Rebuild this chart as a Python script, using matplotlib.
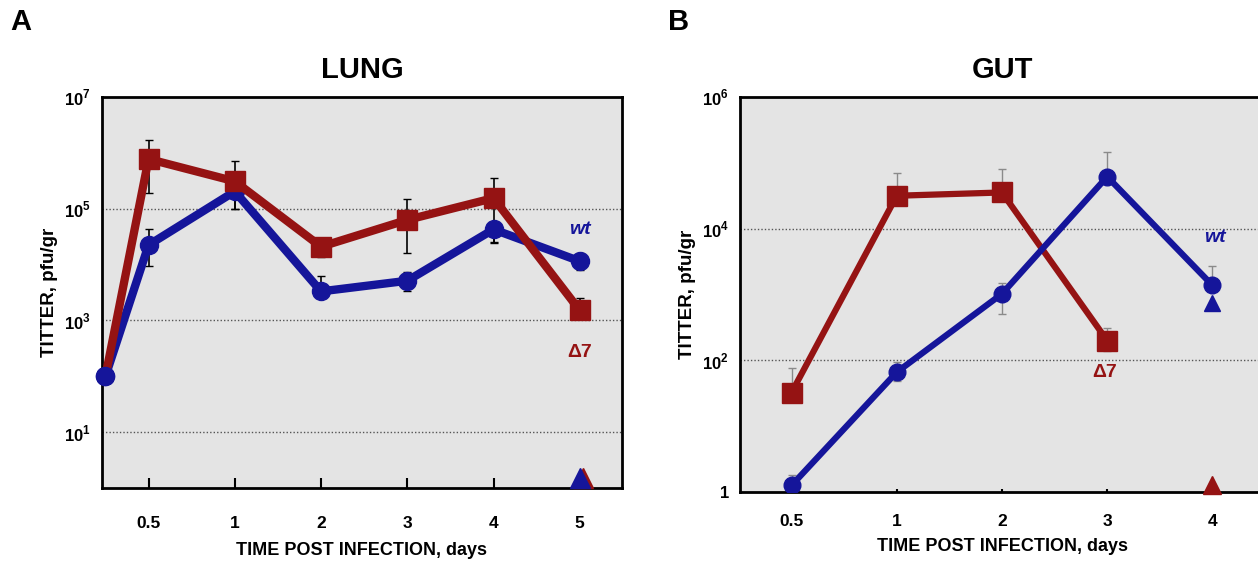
import numpy as np
import matplotlib
matplotlib.use("Agg")
import matplotlib.pyplot as plt

plt.rcParams['font.family'] = ['Liberation Sans', 'DejaVu Sans']
plt.rcParams['font.weight'] = 'bold'
plt.rcParams['axes.titleweight'] = 'bold'
plt.rcParams['axes.labelweight'] = 'bold'
plt.rcParams['mathtext.fontset'] = 'custom'
plt.rcParams['mathtext.rm'] = 'Liberation Sans:bold'
plt.rcParams['mathtext.bf'] = 'Liberation Sans:bold'

RED = '#951313'
BLUE = '#15159a'
BG = '#e4e4e4'

# ---- LUNG data (log10 titer), first value = inoculum ----
lung_days = ['0.5', '1', '2', '3', '4', '5']
lung_wt = [2.0, 4.35, 5.31, 3.52, 3.71, 4.63, 4.06]
lung_wt_hi = [2.0, 4.64, 5.42, 3.79, 3.87, 4.75, 4.20]
lung_wt_lo = [2.0, 3.97, 5.00, 3.45, 3.53, 4.38, 3.90]
lung_d7 = [2.0, 5.89, 5.49, 4.32, 4.80, 5.19, 3.18]
lung_d7_hi = [2.0, 6.23, 5.85, 4.48, 5.17, 5.55, 3.40]
lung_d7_lo = [2.0, 5.28, 5.00, 4.13, 4.20, 4.41, 3.10]
lung_nd = 0.18  # below detection, day 5

# ---- GUT data (log10 titer) ----
gut_days = ['0.5', '1', '2', '3', '4']
gut_wt = [0.10, 1.82, 3.01, 4.79, 3.14]
gut_wt_hi = [0.26, 1.97, 3.17, 5.17, 3.43]
gut_wt_lo = [0.10, 1.68, 2.71, 4.79, 3.14]
gut_d7 = [1.51, 4.50, 4.55, 2.30]
gut_d7_hi = [1.89, 4.85, 4.90, 2.49]
gut_d7_lo = [1.51, 4.50, 4.55, 2.14]
gut_wt_tri = 2.87
gut_nd = 0.10


def errs(v, lo, hi):
    v = 10 ** np.array(v)
    return v, [v - 10 ** np.array(lo), 10 ** np.array(hi) - v]


fig = plt.figure(figsize=(12.58, 5.61), dpi=100)

# ================= LUNG =================
ax = fig.add_axes([102 / 1258, 1 - 488 / 561, 520 / 1258, 391 / 561])
ax.set_facecolor(BG)
x = np.concatenate([[0.5], np.arange(1, len(lung_days) + 1)])

y, e = errs(lung_wt, lung_wt_lo, lung_wt_hi)
ax.errorbar(x, y, yerr=e, fmt='none', ecolor='black', elinewidth=1.2, capsize=3, zorder=2)
ax.plot(x, y, color=BLUE, lw=6, marker='o', ms=13, zorder=3, clip_on=False)
y, e = errs(lung_d7, lung_d7_lo, lung_d7_hi)
ax.errorbar(x, y, yerr=e, fmt='none', ecolor='black', elinewidth=1.2, capsize=3, zorder=2)
ax.plot(x, y, color=RED, lw=6, marker='s', ms=15, markevery=list(range(1, len(x))), zorder=4)
ax.plot(x[:1], y[:1], color=BLUE, marker='o', ms=13, zorder=5, clip_on=False)

ax.plot([6.04], [10 ** lung_nd], marker='^', color=RED, ms=15, zorder=5, clip_on=False)
ax.plot([6.0], [10 ** lung_nd], marker='^', color=BLUE, ms=15, zorder=6, clip_on=False)

ax.set_yscale('log')
ax.set_ylim(1, 1e7)
ax.set_xlim(0.46, 6.49)
ax.set_yticks([10, 1e3, 1e5, 1e7])
ax.set_yticklabels([r'$10^{1}$', r'$10^{3}$', r'$10^{5}$', r'$10^{7}$'])
ax.yaxis.set_minor_locator(matplotlib.ticker.NullLocator())
ax.set_xticks(np.arange(1, len(lung_days) + 1))
ax.set_xticklabels(lung_days)
ax.tick_params(axis='x', direction='in', length=7, width=1.5, pad=20, labelsize=12.5)
ax.tick_params(axis='y', length=0, pad=8, labelsize=12)
for yy in [10, 1e3, 1e5]:
    ax.axhline(yy, color='#555555', lw=1, ls=(0, (1, 1.5)), zorder=1)
for s in ax.spines.values():
    s.set_linewidth(2)
ax.set_xlabel('TIME POST INFECTION, days', fontsize=13, labelpad=8)
ax.set_ylabel('TITTER, pfu/gr', fontsize=13.5, labelpad=4)
ax.set_title('LUNG', fontsize=21, pad=14)
ax.text(6.0, 10 ** 4.63, 'wt', color=BLUE, style='italic', fontsize=14,
        ha='center', va='center')
ax.text(6.0, 10 ** 2.42, '\u03947', color=RED, fontsize=14, ha='center', va='center')
fig.text(10 / 1258, 1 - 22 / 561, 'A', fontsize=21, va='center', ha='left')

# ================= GUT =================
bx = fig.add_axes([740 / 1258, 1 - 492 / 561, 525 / 1258, 395 / 561])
bx.set_facecolor(BG)
xg = np.arange(1, len(gut_days) + 1)

y, e = errs(gut_d7, gut_d7_lo, gut_d7_hi)
bx.errorbar(xg[:len(y)], y, yerr=e, fmt='none', ecolor='#8a8a8a', elinewidth=1, capsize=3, zorder=2)
bx.plot(xg[:len(y)], y, color=RED, lw=4.5, marker='s', ms=14, zorder=3)
y, e = errs(gut_wt, gut_wt_lo, gut_wt_hi)
bx.errorbar(xg, y, yerr=e, fmt='none', ecolor='#8a8a8a', elinewidth=1, capsize=3, zorder=2)
bx.plot(xg, y, color=BLUE, lw=4.5, marker='o', ms=12, zorder=4)

bx.plot([5], [10 ** gut_wt_tri], marker='^', color=BLUE, ms=12, zorder=5)
bx.plot([5], [10 ** gut_nd], marker='^', color=RED, ms=13, zorder=5, clip_on=False)

bx.set_yscale('log')
bx.set_ylim(1, 1e6)
bx.set_xlim(0.51, 5.5)
bx.set_yticks([1, 1e2, 1e4, 1e6])
bx.set_yticklabels(['1', r'$10^{2}$', r'$10^{4}$', r'$10^{6}$'])
bx.yaxis.set_minor_locator(matplotlib.ticker.NullLocator())
bx.set_xticks(xg)
bx.set_xticklabels(gut_days)
bx.tick_params(axis='x', direction='in', length=2, width=1.5, pad=16, labelsize=12.5)
bx.tick_params(axis='y', length=0, pad=8, labelsize=12)
for yy in [1e2, 1e4]:
    bx.axhline(yy, color='#555555', lw=1, ls=(0, (1, 1.5)), zorder=1)
for s in bx.spines.values():
    s.set_linewidth(2)
bx.set_xlabel('TIME POST INFECTION, days', fontsize=13, labelpad=6)
bx.set_ylabel('TITTER, pfu/gr', fontsize=13.5, labelpad=4)
bx.set_title('GUT', fontsize=21, pad=14)
bx.text(5.02, 10 ** 3.86, 'wt', color=BLUE, style='italic', fontsize=14,
        ha='center', va='center')
bx.text(3.98, 10 ** 1.82, '\u03947', color=RED, fontsize=14, ha='center', va='center')
fig.text(668 / 1258, 1 - 22 / 561, 'B', fontsize=21, va='center', ha='left')

fig.savefig('out.png', dpi=100, facecolor='white')
